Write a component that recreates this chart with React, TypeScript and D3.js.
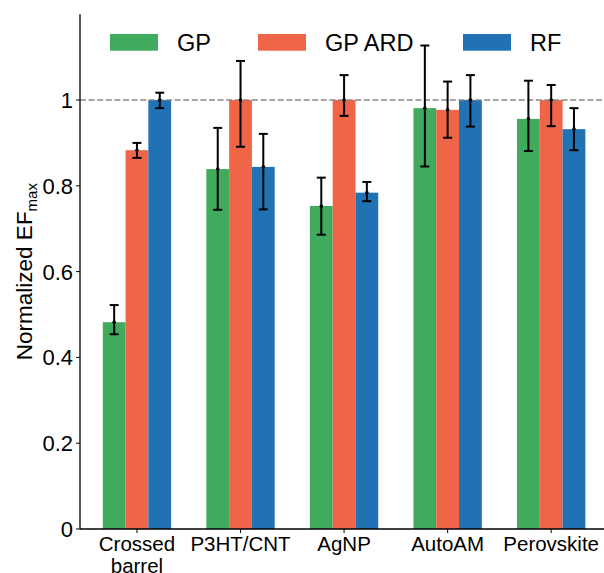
import React from "react";
import * as d3 from "d3";

const categories = ["Crossed\nbarrel", "P3HT/CNT", "AgNP", "AutoAM", "Perovskite"];
const seriesNames = ["GP", "GP ARD", "RF"];
const seriesColors = ["#41ab5d", "#ef6548", "#2171b5"];

const gpValues = [0.482, 0.839, 0.753, 0.981, 0.956];
const gpLow = [0.454, 0.744, 0.686, 0.845, 0.881];
const gpHigh = [0.522, 0.935, 0.819, 1.127, 1.045];

const ardValues = [0.883, 1.0, 1.0, 0.977, 1.0];
const ardLow = [0.865, 0.891, 0.963, 0.912, 0.939];
const ardHigh = [0.9, 1.091, 1.058, 1.043, 1.035];

const rfValues = [1.0, 0.844, 0.784, 1.0, 0.932];
const rfLow = [0.981, 0.745, 0.764, 0.938, 0.883];
const rfHigh = [1.017, 0.921, 0.809, 1.058, 0.981];

const yTicks = [0, 0.2, 0.4, 0.6, 0.8, 1];

const W = 604;
const H = 573;
const FONT = "'Liberation Sans', Arial, sans-serif";

export default function App() {
  const series = [
    { name: seriesNames[0], color: seriesColors[0], v: gpValues, lo: gpLow, hi: gpHigh },
    { name: seriesNames[1], color: seriesColors[1], v: ardValues, lo: ardLow, hi: ardHigh },
    { name: seriesNames[2], color: seriesColors[2], v: rfValues, lo: rfLow, hi: rfHigh },
  ];
  const x = d3.scaleLinear().domain([-0.55, 4.51]).range([80, 604]);
  const y = d3.scaleLinear().domain([0, 1.2]).range([529, 14.2]);
  const bw = 0.22;
  const unit = x(1) - x(0);
  const barW = bw * unit;
  const capW = 8;

  return (
    <svg width={W} height={H} style={{ position: "absolute", left: 0, top: 0 }} fontFamily={FONT}>
      <rect width={W} height={H} fill="white" />
      {/* bars */}
      {series.map((s, si) =>
        s.v.map((val, i) => {
          const cx = x(i + (si - 1) * bw);
          return (
            <rect
              key={`b${si}-${i}`}
              x={cx - barW / 2}
              y={y(val)}
              width={barW}
              height={y(0) - y(val)}
              fill={s.color}
            />
          );
        })
      )}
      {/* reference line */}
      <line
        x1={x(-0.55)}
        x2={W}
        y1={y(1)}
        y2={y(1)}
        stroke="#888"
        strokeWidth={1.6}
        strokeDasharray="6,2.6"
      />
      {/* error bars */}
      {series.map((s, si) =>
        s.v.map((val, i) => {
          const cx = x(i + (si - 1) * bw);
          return (
            <g key={`e${si}-${i}`} stroke="black" strokeWidth={2}>
              <line x1={cx} x2={cx} y1={y(s.lo[i])} y2={y(s.hi[i])} />
              <line x1={cx - capW / 2 - 0.5} x2={cx + capW / 2 + 0.5} y1={y(s.lo[i])} y2={y(s.lo[i])} />
              <line x1={cx - capW / 2 - 0.5} x2={cx + capW / 2 + 0.5} y1={y(s.hi[i])} y2={y(s.hi[i])} />
              <circle cx={cx} cy={y(val)} r={1.8} fill="black" stroke="none" />
            </g>
          );
        })
      )}
      {/* axes */}
      <line x1={x(-0.55)} x2={x(-0.55)} y1={y(1.2)} y2={y(0)} stroke="black" strokeWidth={1.3} />
      <line x1={x(-0.55)} x2={W} y1={y(0)} y2={y(0)} stroke="black" strokeWidth={1.3} />
      {yTicks.map((t) => (
        <g key={`yt${t}`}>
          <line x1={x(-0.55) - 4} x2={x(-0.55)} y1={y(t)} y2={y(t)} stroke="black" strokeWidth={1} />
          <text x={x(-0.55) - 7} y={y(t)} dy="0.36em" textAnchor="end" fontSize={22} fill="black">
            {d3.format("~g")(t)}
          </text>
        </g>
      ))}
      {categories.map((c, i) => (
        <g key={`xt${i}`}>
          <line x1={x(i)} x2={x(i)} y1={y(0)} y2={y(0) + 4} stroke="black" strokeWidth={1} />
          <text x={x(i)} y={551} textAnchor="middle" fontSize={20.5} fill="black">
            {c.split("\n").map((line, li) => (
              <tspan key={li} x={x(i)} dy={li === 0 ? 0 : 22}>
                {line}
              </tspan>
            ))}
          </text>
        </g>
      ))}
      {/* y label */}
      <text
        transform={`translate(32, ${y(0.6)}) rotate(-90)`}
        textAnchor="middle"
        fontSize={22.5}
        fill="black"
      >
        Normalized EF<tspan fontSize={15} dy={5}>max</tspan>
      </text>
      {/* legend */}
      {series.map((s, si) => {
        const lx = [110, 258, 463][si];
        return (
          <g key={`lg${si}`}>
            <rect x={lx} y={34} width={48} height={16.7} fill={s.color} />
            <text x={lx + 67} y={50.7} fontSize={23.5} fill="black">
              {s.name}
            </text>
          </g>
        );
      })}
    </svg>
  );
}
